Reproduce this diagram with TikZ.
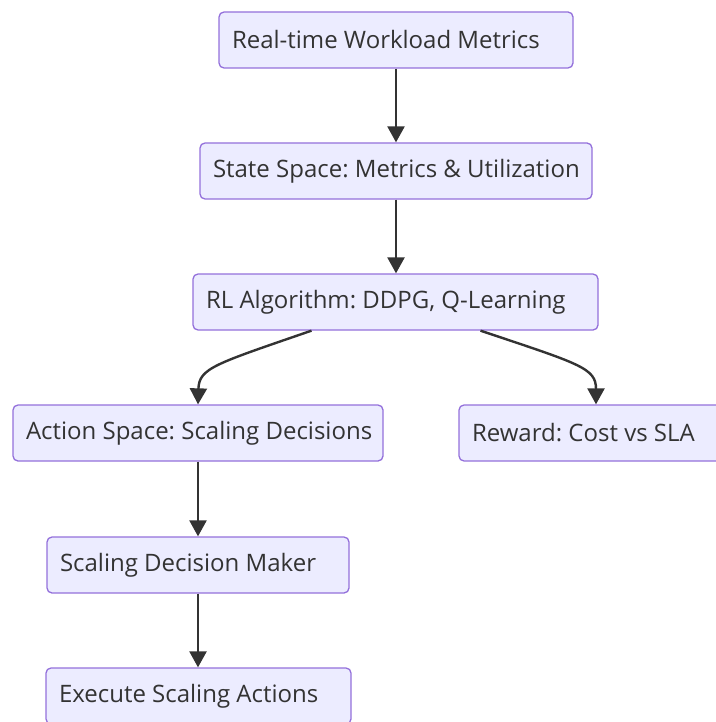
\documentclass[tikz,border=0pt]{standalone}
\usepackage{fontspec}
\setmainfont{Open Sans}
\usetikzlibrary{arrows.meta,calc}
\definecolor{boxfill}{HTML}{ECECFF}
\definecolor{boxline}{HTML}{9370DB}
\definecolor{ink}{HTML}{333333}
\frenchspacing
\newcommand{\boxtext}[2]{\makebox[#1][l]{#2}}
\begin{document}
\begin{tikzpicture}[x=1pt,y=-1pt,
  box/.style={draw=boxline, fill=boxfill, line width=1.3pt, rounded corners=5pt,
    minimum height=56pt, inner xsep=13pt, inner ysep=0pt,
    text=ink, font=\fontsize{24}{28}\selectfont},
  flow/.style={draw=ink, line width=2.4pt, -{Triangle[length=16pt,width=17pt]}}]
\useasboundingbox (0,0) rectangle (715,722);
\node[box] (rt) at (396,40) {\boxtext{328pt}{Real-time Workload Metrics}};
\node[box] (ss) at (396,171) {\boxtext{366pt}{State Space: Metrics \& Utilization}};
\node[box] (rl) at (395.5,302) {\boxtext{379pt}{RL Algorithm: DDPG, Q-Learning}};
\node[box] (as) at (198,433) {\boxtext{344pt}{Action Space: Scaling Decisions}};
\node[box] (rw) at (596,433) {\boxtext{248pt}{Reward: Cost vs SLA}};
\node[box] (dm) at (198,565) {\boxtext{276pt}{Scaling Decision Maker}};
\node[box] (ex) at (198.5,696) {\boxtext{279pt}{Execute Scaling Actions}};
\draw[flow] (rt.south) -- (ss.north);
\draw[flow] (ss.south) -- (rl.north -| ss.south);
\draw[flow] ([xshift=-84pt]rl.south) .. controls (215,364) and (199,368) .. (as.north);
\draw[flow] ([xshift=85pt]rl.south) .. controls (580,364) and (596,368) .. (rw.north);
\draw[flow] (as.south) -- (dm.north);
\draw[flow] (dm.south) -- (ex.north -| dm.south);
\end{tikzpicture}
\end{document}
